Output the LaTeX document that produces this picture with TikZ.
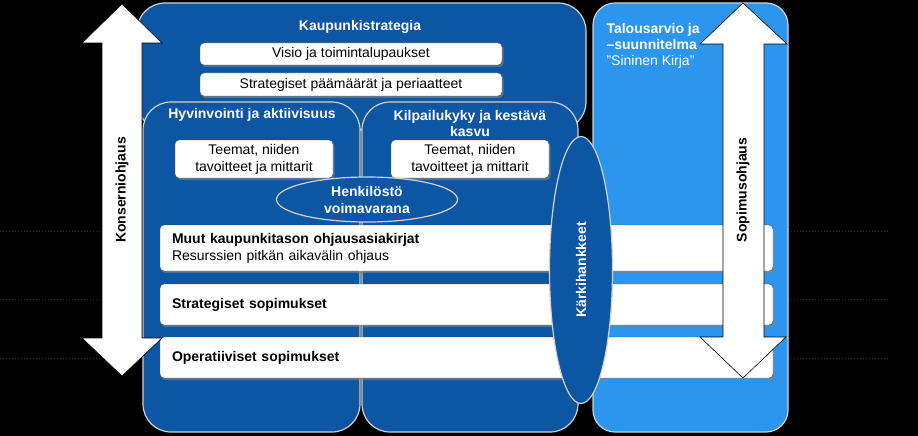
\documentclass[tikz,border=0pt]{standalone}
\usepackage{fontspec}
\setmainfont{Liberation Sans}
\usetikzlibrary{shapes.geometric,shadows}
\definecolor{darkblue}{RGB}{12,86,164}
\definecolor{lightblue}{RGB}{44,150,238}
\definecolor{gridgray}{RGB}{40,48,64}
\begin{document}
\begin{tikzpicture}
[x=1pt,y=-1pt
,panel/.style={draw=gray!35,line width=1.2pt,rounded corners=28pt}
,bar/.style={rectangle,draw=black!70,fill=white,rounded corners=4pt,inner sep=0pt
  ,drop shadow={opacity=0.6,shadow xshift=1.5pt,shadow yshift=-2pt}
  ,align=center,font=\fontsize{14}{17}\selectfont}
,wide/.style={bar,minimum width=613pt,inner xsep=12pt,text width=589pt,align=left
  ,font=\bfseries\fontsize{14}{17}\selectfont}
,oval/.style={ellipse,draw=gray!35,line width=1.2pt,fill=darkblue,text=white,inner sep=0pt
  ,align=center,font=\bfseries\fontsize{14}{17}\selectfont}
,title/.style={text=white,align=center,font=\bfseries\fontsize{14}{16}\selectfont}
,bigarrow/.style={fill=white,draw=black,line width=0.6pt}
,gridline/.style={draw=gridgray,dotted,line width=1pt}
]
\useasboundingbox (0,0) rectangle (918,436);
\fill[black] (0,0) rectangle (918,436);
% dotted guides
\foreach \yy in {231,299,358}
  {\draw[gridline] (0,\yy) -- (100,\yy);
   \draw[gridline] (788,\yy) -- (888,\yy);}
% panels
\draw[panel,fill=darkblue] (137,3) rectangle (586,130);
\draw[panel,fill=darkblue] (143,102) rectangle (360,432);
\draw[panel,fill=darkblue] (362,102) rectangle (578,432);
\draw[panel,fill=lightblue,rounded corners=22pt] (593,3) rectangle (788,432);
% titles
\node[title] (strat) at (360,27) {Kaupunkistrategia};
\node[title] (hyv) at (252,115) {Hyvinvointi ja aktiivisuus};
\node[title] (kilp) at (470,123) {Kilpailukyky ja kestävä\\kasvu};
\node[title,align=left,anchor=north west] (talous) at (603,20)
  {Talousarvio ja\\–suunnitelma\\{\mdseries "Sininen Kirja"}};
% boxes
\node[bar,minimum width=302pt,minimum height=22pt] (visio) at (351,54) {Visio ja toimintalupaukset};
\node[bar,minimum width=302pt,minimum height=23pt] (paamaarat) at (351,84.5) {Strategiset päämäärät ja periaatteet};
\node[bar,minimum width=158pt,minimum height=38pt] (teemat1) at (254,159) {Teemat, niiden\\tavoitteet ja mittarit};
\node[bar,minimum width=158pt,minimum height=38pt] (teemat2) at (470,159) {Teemat, niiden\\tavoitteet ja mittarit};
\node[oval,minimum width=181pt,minimum height=45pt] (henk) at (367,199.5) {Henkilöstö\\voimavarana};
\node[wide,minimum height=46pt] (muut) at (466.5,248)
  {Muut kaupunkitason ohjausasiakirjat\\{\mdseries Resurssien pitkän aikavälin ohjaus}};
\node[wide,minimum height=41pt] (stratsop) at (466.5,304.5) {Strategiset sopimukset};
\node[wide,minimum height=41pt] (opsop) at (466.5,357.5) {Operatiiviset sopimukset};
\node[oval,rotate=90,minimum width=267pt,minimum height=63pt] (karki) at (581,270) {Kärkihankkeet};
% arrows
\draw[bigarrow] (122,4) -- (162,43) -- (142,43) -- (142,338) -- (162,338) -- (122,376)
  -- (82,338) -- (102,338) -- (102,43) -- (82,43) -- cycle;
\draw[bigarrow] (743,3) -- (787,44) -- (764,44) -- (764,337) -- (786,337) -- (743,378)
  -- (700,337) -- (723,337) -- (723,44) -- (700,44) -- cycle;
\node[rotate=90,font=\bfseries\fontsize{14}{16}\selectfont] (konserni) at (122,190) {Konserniohjaus};
\node[rotate=90,font=\bfseries\fontsize{14}{16}\selectfont] (sopimus) at (743,190) {Sopimusohjaus};
\end{tikzpicture}
\end{document}
